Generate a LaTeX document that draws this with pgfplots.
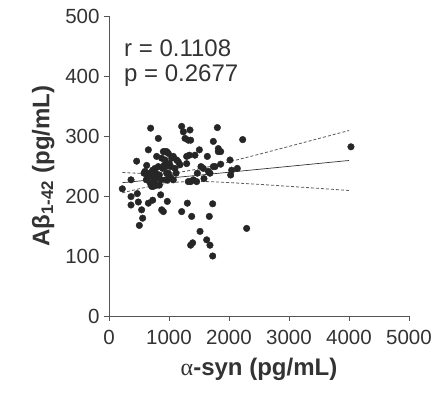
\documentclass[border=0pt]{standalone}
\usepackage{pgfplots}
\pgfplotsset{compat=1.18}
\usepackage{fontspec}
\setmainfont{Liberation Sans}
\newfontfamily\serifgreek{Liberation Serif}
\definecolor{txtgray}{HTML}{333333}
\definecolor{axgray}{HTML}{555555}
\begin{document}
\begin{tikzpicture}
\useasboundingbox (-109pt,-78pt) rectangle (331pt,316pt);
\begin{axis}[
  at={(0,0)}, anchor=south west,
  scale only axis, width=300pt, height=300pt,
  xmin=0, xmax=5000, ymin=0, ymax=500,
  axis x line*=bottom, axis y line*=left,
  axis line style={-, axgray, line width=0.8pt},
  xtick={0,1000,2000,3000,4000,5000},
  ytick={0,100,200,300,400,500},
  tick align=outside, major tick length=5pt,
  tick style={axgray, line width=0.8pt},
  /pgf/number format/1000 sep={},
  /pgf/number format/assume math mode=true,
  tick label style={font=\fontsize{20.5}{23}\selectfont, text=txtgray},
  xticklabel style={yshift=-6pt},
  yticklabel style={xshift=-1pt},
  xlabel={\bfseries{\serifgreek\mdseries α}-syn (pg/mL)},
  ylabel={\bfseries Aβ\textsubscript{1-42} (pg/mL)},
  label style={font=\fontsize{24}{27}\selectfont, text=txtgray},
  xlabel style={yshift=-6pt},
  ylabel style={yshift=4pt},
  clip=false,
]
\addplot[only marks, mark=*, mark size=3.3pt, black!85] coordinates {
(222,212) (367,227) (367,199) (367,185) (461,258) (472,204) (489,190) (506,151)
(544,177) (561,163) (600,241) (628,251) (644,232) (656,277) (656,188) (694,313)
(694,238) (711,216) (728,193) (739,229) (750,223) (767,246) (794,266) (806,232)
(822,296) (839,218) (861,202) (878,177) (906,174) (917,251) (928,274) (944,227)
(961,238) (972,191) (989,271) (1006,254) (1017,232) (1044,263) (1072,227) (1100,246)
(1128,260) (1156,257) (1211,174) (1211,316) (1239,307) (1267,296) (1294,254) (1306,188)
(1322,224) (1339,268) (1350,310) (1361,293) (1361,118) (1378,166) (1394,122) (1433,268)
(1461,224) (1506,277) (1517,141) (1533,249) (1583,229) (1628,127) (1639,266) (1656,241)
(1672,166) (1683,118) (1728,187) (1728,100) (1739,291) (1767,249) (1806,314) (1822,279)
(1822,274) (1861,253) (2017,260) (2028,235) (2139,246) (2228,294) (2294,146) (4033,282)
(583,238) (622,227) (678,238) (689,221) (728,243) (739,216) (767,227) (783,238)
(794,218) (822,249) (839,235) (867,227) (878,263) (894,246) (906,274) (933,260)
(950,249) (961,274) (978,227) (989,238) (1028,249) (1072,266) (1117,238) (1183,252)
(1294,266) (1322,293) (1361,224) (1406,227) (1472,238) (1572,246) (1683,238) (1739,249)
(1861,274) (2044,243)
};
\addplot[black!80, line width=0.7pt] coordinates {(222,222.2) (4000,259.2)};
\addplot[black!65, line width=0.8pt, dash pattern=on 3pt off 2pt, smooth] coordinates {
(222,239.2) (600,237.6) (1100,238.8) (1600,247.4) (2000,256.9) (2500,269.6) (3000,282.7) (3500,295.9) (4000,309.2)};
\addplot[black!65, line width=0.8pt, dash pattern=on 3pt off 2pt, smooth] coordinates {
(222,205.2) (600,214.2) (1100,222.8) (1600,224.0) (2000,222.3) (2500,219.4) (3000,216.1) (3500,212.7) (4000,209.2)};
\node[anchor=west, font=\fontsize{24}{27}\selectfont, text=txtgray, inner sep=0pt] at (axis cs:250,447) {r = 0.1108};
\node[anchor=west, font=\fontsize{24}{27}\selectfont, text=txtgray, inner sep=0pt] at (axis cs:250,400) {p = 0.2677};
\end{axis}
\end{tikzpicture}
\end{document}
